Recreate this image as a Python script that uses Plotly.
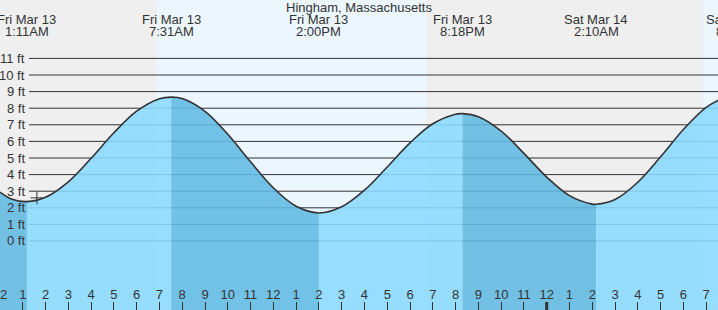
import plotly.graph_objects as go

# ---- data (hours after Fri Mar 13 00:00) ----
tide_t = [0.0, 0.5, 1.183, 2, 3, 4, 5, 6, 7, 7.517, 8, 9, 10, 11, 12, 13, 14.0,
          15, 16, 17, 18, 19, 20, 20.3, 21, 22, 23, 24, 25, 26, 26.167,
          27, 28, 29, 30, 31, 31.6]
tide_ft = [2.95, 2.53, 2.37, 2.63, 3.56, 4.98, 6.52, 7.82, 8.57, 8.67, 8.58, 7.81, 6.43, 4.77, 3.20, 2.09, 1.69,
           2.06, 3.06, 4.46, 5.91, 7.06, 7.64, 7.67, 7.48, 6.62, 5.28, 3.85, 2.73, 2.22, 2.21,
           2.50, 3.54, 5.07, 6.72, 8.05, 8.53]

extreme_t = [1.183, 7.517, 14.0, 20.3, 26.167, 32.4]
extreme_day = ["Fri Mar 13", "Fri Mar 13", "Fri Mar 13", "Fri Mar 13", "Sat Mar 14", "Sat Mar 14"]
extreme_time = ["1:11AM", "7:31AM", "2:00PM", "8:18PM", "2:10AM", "8:24AM"]

day_start = [6.883, 30.867]
day_end = [18.717, 31.6]

grid_ft = list(range(0, 12))
grid_labels = [f"{v} ft" for v in grid_ft]

hour_ticks = list(range(0, 32))
hour_labels = [str(12 if h % 12 == 0 else h % 12) for h in hour_ticks]
midnight_t = [24]

now_t = [1.62]
now_ft = [2.6]

title = "Hingham, Massachusetts"

# ---- styling ----
W, H = 718, 310
X_RANGE = [0.0, 31.52]
Y_RANGE = [-4.157, 14.518]
FONT = "Liberation Sans, Arial, sans-serif"
TXT = "#333333"
RISE = "rgba(138,217,255,0.88)"
FALL = "rgba(97,187,228,0.88)"


def xpaper(t):
    return (t - X_RANGE[0]) / (X_RANGE[1] - X_RANGE[0])


fig = go.Figure()

# segments between extremes: falling (dark) / rising (light)
bounds = [tide_t[0]] + [t for t in extreme_t if t < tide_t[-1]] + [tide_t[-1]]
for i in range(len(bounds) - 1):
    a, b = bounds[i], bounds[i + 1]
    xs = [t for t in tide_t if a - 1e-9 <= t <= b + 1e-9]
    ys = [tide_ft[tide_t.index(t)] for t in xs]
    rising = ys[-1] > ys[0]
    fig.add_trace(go.Scatter(x=[a, b], y=[Y_RANGE[0] - 1] * 2, mode="lines",
                             line=dict(width=0), hoverinfo="skip", showlegend=False))
    fig.add_trace(go.Scatter(x=xs, y=ys, mode="lines", fill="tonexty",
                             fillcolor=RISE if rising else FALL,
                             line=dict(width=0, shape="spline"),
                             hoverinfo="skip", showlegend=False))

fig.add_trace(go.Scatter(x=tide_t, y=tide_ft, mode="lines",
                         line=dict(color="#333333", width=1.6, shape="spline"),
                         hoverinfo="skip", showlegend=False))
fig.add_trace(go.Scatter(x=now_t, y=now_ft, mode="markers",
                         marker=dict(symbol="cross-thin", size=9,
                                     line=dict(color="#333333", width=1)),
                         hoverinfo="skip", showlegend=False))

shapes = []
for a, b in zip(day_start, day_end):
    shapes.append(dict(type="rect", xref="x", yref="paper", x0=a, x1=b, y0=0, y1=1,
                       fillcolor="#ecf6fe", line=dict(width=0), layer="below"))
for v in grid_ft:
    shapes.append(dict(type="line", xref="paper", yref="y", x0=29 / W, x1=1, y0=v, y1=v,
                       line=dict(color="#333333", width=1), layer="below"))
for m in midnight_t:
    shapes.append(dict(type="line", xref="x", yref="paper", x0=m, x1=m, y0=0, y1=8 / H,
                       line=dict(color="#333333", width=3)))

annotations = []
for v, lab in zip(grid_ft, grid_labels):
    annotations.append(dict(x=27 / W, xref="paper", y=v, yref="y", text=lab,
                            xanchor="right", yanchor="middle", showarrow=False,
                            font=dict(family=FONT, size=13, color=TXT)))
for t, d, tm in zip(extreme_t, extreme_day, extreme_time):
    annotations.append(dict(x=xpaper(t), xref="paper", y=1 - 19.5 / H, yref="paper", text=d,
                            xanchor="center", yanchor="middle", showarrow=False,
                            font=dict(family=FONT, size=13, color=TXT)))
    annotations.append(dict(x=xpaper(t), xref="paper", y=1 - 31.5 / H, yref="paper", text=tm,
                            xanchor="center", yanchor="middle", showarrow=False,
                            font=dict(family=FONT, size=13, color=TXT)))
annotations.append(dict(x=0.5, xref="paper", y=1 - 7.5 / H, yref="paper", text=title,
                        xanchor="center", yanchor="middle", showarrow=False,
                        font=dict(family=FONT, size=13, color=TXT)))

fig.update_layout(
    width=W, height=H, margin=dict(l=0, r=0, t=0, b=0, autoexpand=False),
    paper_bgcolor="#efefef", plot_bgcolor="#efefef",
    shapes=shapes, annotations=annotations, hovermode=False, showlegend=False,
    xaxis=dict(range=X_RANGE, tickvals=hour_ticks, ticktext=hour_labels,
               ticks="inside", ticklen=8, tickcolor="#333333", tickwidth=1,
               ticklabelposition="inside", ticklabelstandoff=0,
               ticklabeloverflow="allow", automargin=False,
               tickfont=dict(family=FONT, size=13, color=TXT),
               showgrid=False, zeroline=False, showline=False, fixedrange=True),
    yaxis=dict(range=Y_RANGE, showticklabels=False, showgrid=False, zeroline=False,
               showline=False, fixedrange=True, automargin=False),
)

fig.write_html("out.html")
